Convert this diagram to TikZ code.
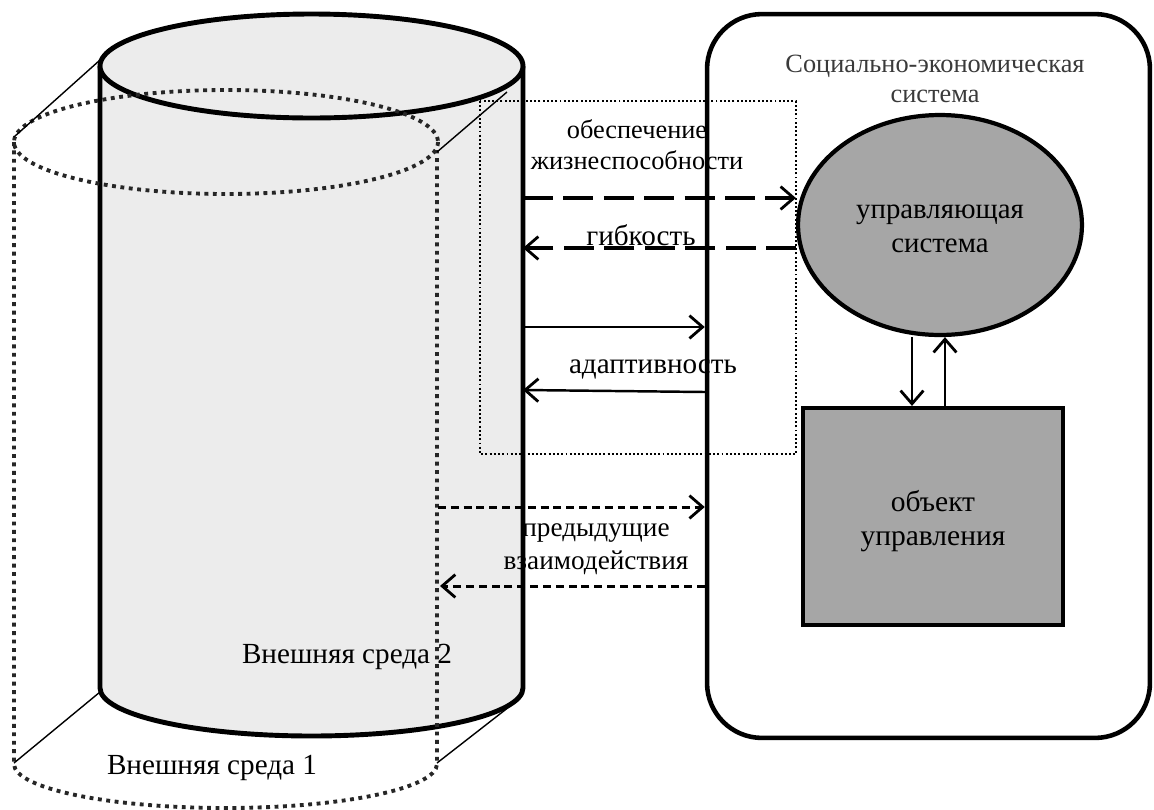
\documentclass[tikz,border=0pt]{standalone}
\usepackage{fontspec}
\setmainfont{Liberation Serif}
\usetikzlibrary{arrows.meta,shapes.geometric}
\definecolor{cylfill}{HTML}{ECECEC}
\definecolor{boxfill}{HTML}{A6A6A6}
\definecolor{headtext}{HTML}{3A3A3A}
\begin{document}
\begin{tikzpicture}[x=0.02cm,y=-0.02cm,
  cylline/.style={line width=2.8pt},
  envdots/.style={line width=2.2pt, dash pattern=on 2.2pt off 2.6pt, black!85},
  thinline/.style={line width=0.8pt},
  frame/.style={line width=1.1pt, dash pattern=on 1.1pt off 1.3pt},
  lab/.style={font=\fontsize{16.6}{19}\selectfont, align=center, inner sep=0pt},
  labsmall/.style={font=\fontsize{15}{17.5}\selectfont, align=center, inner sep=0pt},
  sesbox/.style={draw, line width=2.6pt, rounded corners=1.1cm, minimum width=8.86cm, minimum height=14.48cm, inner sep=0pt},
  ctrl/.style={draw, ellipse, fill=boxfill, line width=2.4pt, minimum width=5.68cm, minimum height=4.4cm, inner sep=0pt},
  objbox/.style={draw, rectangle, fill=boxfill, line width=2.4pt, minimum width=5.2cm, minimum height=4.34cm, inner sep=0pt},
  tip/.style={-{Straight Barb[length=7.5pt,width=13pt,line width=1.6pt]}},
  longdash/.style={tip, line width=1.9pt, dash pattern=on 17pt off 6pt},
  shortdash/.style={tip, line width=1.7pt, dash pattern=on 4.5pt off 2.8pt},
  solidarr/.style={tip, line width=1.4pt}
]
\useasboundingbox (0,0) rectangle (1154,809);

% Cylinder "Внешняя среда 2"
\fill[cylfill] (100,66) -- (100,688) arc[start angle=180,end angle=0,x radius=211.5,y radius=48] -- (523,66) -- cycle;
\draw[cylline] (100,66) -- (100,688) arc[start angle=180,end angle=0,x radius=211.5,y radius=48] -- (523,66);
\draw[cylline, fill=cylfill] (311.5,66) ellipse[x radius=211.5, y radius=52];

% Dotted cylinder "Внешняя среда 1"
\draw[envdots] (226,142) ellipse[x radius=212, y radius=52];
\draw[envdots] (14,142) -- (14,764) arc[start angle=180,end angle=0,x radius=211.5,y radius=44] -- (437,150);
\draw[thinline] (100,60) -- (14,137);
\draw[thinline] (507,92) -- (437,152);
\draw[thinline] (100,692) -- (14,763);
\draw[thinline] (514,703) -- (437,763);

% dotted frame
\draw[frame] (480,101) rectangle (796,454);

% Socio-economic system
\node[sesbox] (ses) at (928.5,376) {};
\node[labsmall, text=headtext] (sestitle) at (935,79) {Социально-экономическая\\система};
\node[ctrl] (ctrl) at (940,225) {};
\node[lab, font=\fontsize{16.4}{19}\selectfont] (ctrltext) at (940,229) {управляющая\\система};
\node[objbox] (obj) at (933,516.5) {};
\node[lab, font=\fontsize{16.8}{19.2}\selectfont] (objtext) at (933,521) {объект\\управления};

% cylinder side coordinates
\coordinate (c1) at (523,198);
\coordinate (c2) at (523,248);
\coordinate (c3) at (523,327);
\coordinate (c4) at (523,390);
\coordinate (d1) at (438,507);
\coordinate (d2) at (440,586);

% arrows
\draw[longdash] (c1) -- (c1 -| ctrl.west);
\draw[longdash] (c2 -| ctrl.west) -- (c2);
\draw[solidarr] (c3) -- (c3 -| ses.west);
\draw[solidarr] ([yshift=-0.04cm]c4 -| ses.west) -- (c4);
\draw[shortdash] (d1) -- (d1 -| ses.west);
\draw[shortdash] (d2 -| ses.west) -- (d2);
\coordinate (v1) at (912,0);
\coordinate (v2) at (945,0);
\draw[solidarr] (v1 |- ctrl.south) -- (v1 |- obj.north);
\draw[solidarr] (v2 |- obj.north) -- (v2 |- ctrl.south);

% labels
\node[labsmall] (l1) at (637,145) {обеспечение\\жизнеспособности};
\node[lab] (l2) at (641,235) {гибкость};
\node[lab] (l3) at (653,369) {адаптивность};
\node[labsmall, font=\fontsize{15.5}{18.5}\selectfont] (l4) at (596,549) {предыдущие\\взаимодействия};
\node[lab] (l5) at (347,657) {Внешняя среда 2};
\node[lab] (l6) at (212,768) {Внешняя среда 1};
\end{tikzpicture}
\end{document}
